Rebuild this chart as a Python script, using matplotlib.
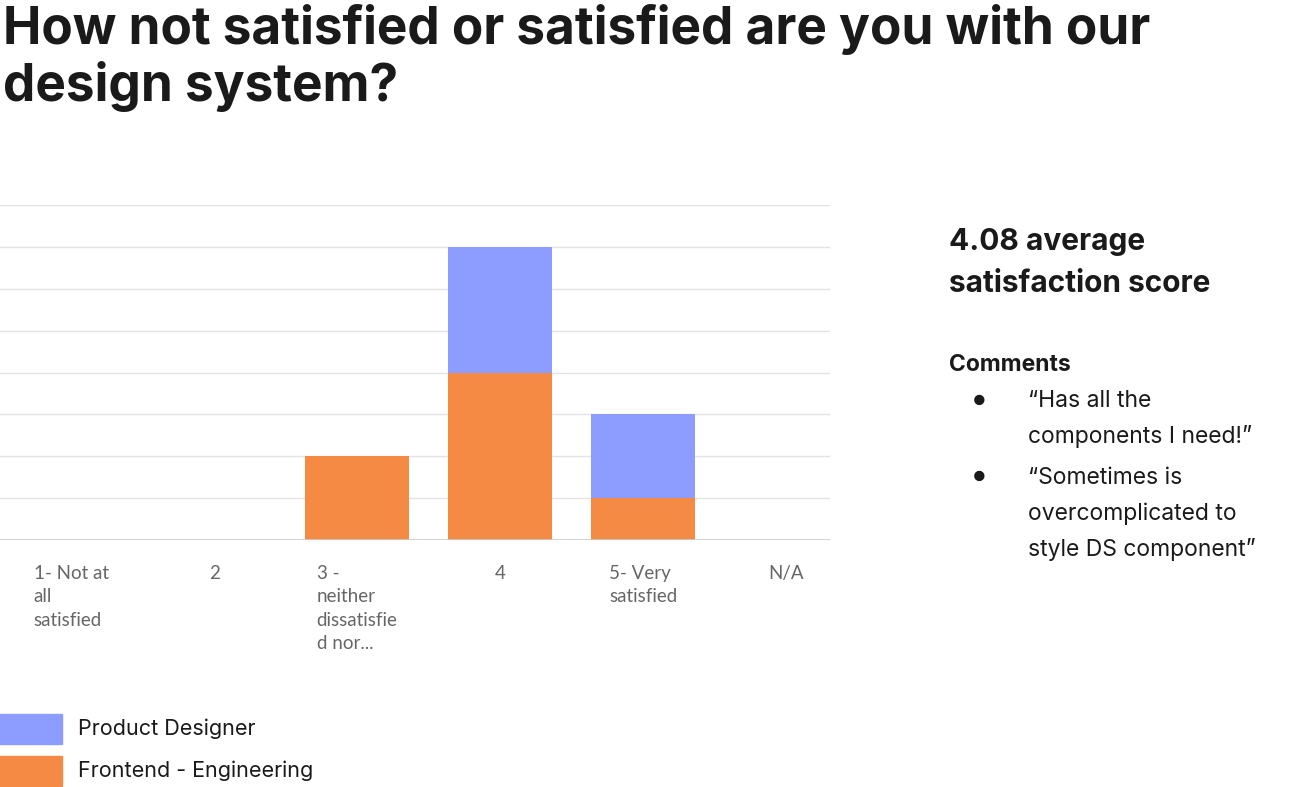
import matplotlib
matplotlib.use("Agg")
import matplotlib.pyplot as plt

categories = ["1- Not at\nall\nsatisfied", "2", "3 -\nneither\ndissatisfie\nd nor...", "4", "5- Very\nsatisfied", "N/A"]
frontend = [0, 0, 2, 4, 1, 0]
designer = [0, 0, 0, 3, 2, 0]
series_names = ["Product Designer", "Frontend - Engineering"]
blue = "#8c9cff"
orange = "#f58a45"

plt.rcParams['font.family'] = ['Inter', 'DejaVu Sans']
fig = plt.figure(figsize=(12.89, 7.87), dpi=100)
fig.text(0.002, 0.995, "How not satisfied or satisfied are you with our\ndesign system?",
         fontsize=37, fontweight='bold', va='top', ha='left', color='#1a1a1a', linespacing=1.15)

ax = fig.add_axes([0.0, 1 - 540/787, 830/1289, 335/787])
x = list(range(len(categories)))
ax.bar(x, frontend, width=0.73, color=orange, zorder=3)
ax.bar(x, designer, width=0.73, bottom=frontend, color=blue, zorder=3)
ax.set_xlim(-0.497, 5.307)
ax.set_ylim(0, 8)
ax.set_yticks(range(9))
ax.grid(axis='y', color='#e3e3e3', lw=1, zorder=0)
ax.tick_params(left=False, labelleft=False, bottom=False, labelbottom=False)
for s in ax.spines.values():
    s.set_visible(False)
ax.axhline(0, color='#cccccc', lw=1.2, zorder=4)
for i, c in enumerate(categories):
    ax.text(i, -0.6, c, ha='center', va='top', multialignment='left', fontsize=13.5,
            color='#666666', family=['Lato', 'DejaVu Sans'], linespacing=1.45)

# legend
for j, (name, col) in enumerate(zip(series_names, [blue, orange])):
    yc = 1 - (729 + 42*j)/787
    fig.patches.append(plt.Rectangle((0, yc - 15/787), 62/1289, 30/787, color=col, transform=fig.transFigure))
    fig.text(78/1289, yc, name, fontsize=15.5, va='center', ha='left', color='#1a1a1a')

fig.text(949/1289, 1 - 263/787, "4.08 average\nsatisfaction score", fontsize=21.5, fontweight='bold',
         va='center', ha='left', color='#1a1a1a', linespacing=1.6)
fig.text(949/1289, 1 - 365/787, "Comments", fontsize=16.5, fontweight='bold', va='center', ha='left', color='#1a1a1a')
fig.text(973/1289, 1 - 401/787, "●", fontsize=10, va='center', ha='left', color='#1a1a1a')
fig.text(1028/1289, 1 - 419/787, "“Has all the\ncomponents I need!”", fontsize=16.5, va='center', ha='left',
         color='#1a1a1a', linespacing=1.75)
fig.text(973/1289, 1 - 477/787, "●", fontsize=10, va='center', ha='left', color='#1a1a1a')
fig.text(1028/1289, 1 - 514/787, "“Sometimes is\novercomplicated to\nstyle DS component”", fontsize=16.5,
         va='center', ha='left', color='#1a1a1a', linespacing=1.75)

fig.savefig("out.png", dpi=100)
